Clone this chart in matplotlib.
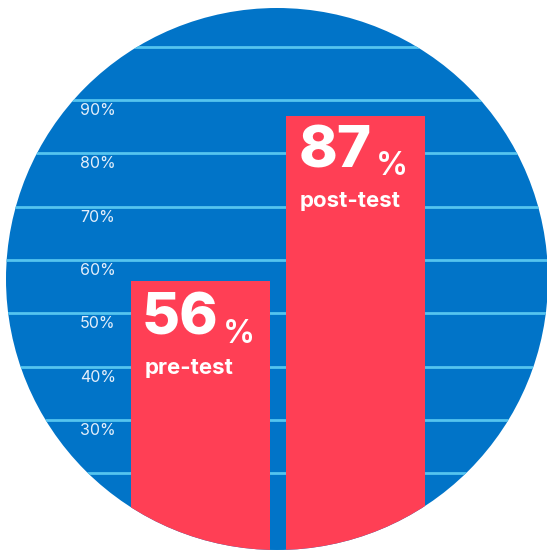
import matplotlib
matplotlib.use('Agg')
import matplotlib.pyplot as plt
import matplotlib.patches as mpatches
import matplotlib.transforms as mtransforms

plt.rcParams['font.family'] = ['Inter', 'DejaVu Sans']

# data
groups = ['pre-test', 'post-test']
scores = [56, 87]
tick_values = [30, 40, 50, 60, 70, 80, 90]
tick_labels = ['30%', '40%', '50%', '60%', '70%', '80%', '90%']
grid_values = [20, 30, 40, 50, 60, 70, 80, 90, 100]

blue = '#0174c8'
red = '#ff3f55'
grid_col = '#55c4ef'

fig = plt.figure(figsize=(5.47, 5.5), dpi=100)
ax = fig.add_axes([0, 0, 1, 1])
ax.set_xlim(-1.2935, 2.2355)
ax.set_ylim(5.625, 108.75)
ax.axis('off')

# background circle, in pixels
circle = mpatches.Circle((277, 271), 271, transform=mtransforms.IdentityTransform(),
                         facecolor=blue, edgecolor='none', zorder=0)
ax.add_patch(circle)
clip = mpatches.Circle((277, 271), 271, transform=mtransforms.IdentityTransform())

for g in grid_values:
    ln = ax.axhline(g, color=grid_col, lw=2, zorder=1)
    ln.set_clip_path(clip)

for v, lab in zip(tick_values, tick_labels):
    ax.annotate(lab, xy=(0, v), xycoords=('figure pixels', 'data'),
                xytext=(80, -10.5), textcoords='offset pixels',
                color='#e4eefa', fontsize=11.5, va='center', ha='left')

w = 0.897
bars = ax.bar(range(len(scores)), scores, width=w, color=red, zorder=2)
for b in bars:
    b.set_clip_path(clip)

num_off = [(11, -53), (13, -51)]
pct_off = [(92, -62), (90, -59)]
lab_off = [(14, -93), (14, -91)]
for i, (g, s) in enumerate(zip(groups, scores)):
    xy = (i - w / 2, s)
    ax.annotate(str(s), xy=xy, xytext=num_off[i], textcoords='offset pixels',
                color='white', fontsize=42, fontweight='heavy',
                ha='left', va='baseline', zorder=3)
    ax.annotate('%', xy=xy, xytext=pct_off[i], textcoords='offset pixels',
                color='white', fontsize=23, fontweight='semibold',
                ha='left', va='baseline', zorder=3)
    ax.annotate(g, xy=xy, xytext=lab_off[i], textcoords='offset pixels',
                color='white', fontsize=16, fontweight='bold',
                ha='left', va='baseline', zorder=3)

fig.savefig('out.png', dpi=100)
